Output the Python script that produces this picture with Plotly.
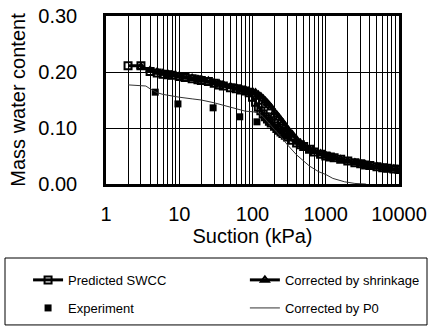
import plotly.graph_objects as go

# ---- data ----
pred_x = [2, 3, 4, 5, 6, 7, 8, 10, 12, 15, 18, 20, 25, 30, 35, 40, 50, 60, 70, 80, 90, 100,
          110, 120, 130, 140, 150, 160, 170, 180, 200, 215, 230, 245, 260, 280, 300, 350, 400,
          450, 500, 600, 700, 850, 1000, 1150, 1300, 1600, 2000, 2500, 3000, 3500, 4000, 5000,
          6000, 7000, 8500, 10000]
pred_w = [0.211, 0.211, 0.201, 0.198, 0.196, 0.195, 0.194, 0.192, 0.190, 0.188, 0.186, 0.185,
          0.183, 0.180, 0.177, 0.175, 0.172, 0.170, 0.168, 0.166, 0.163, 0.155, 0.146, 0.137,
          0.131, 0.125, 0.120, 0.116, 0.112, 0.109, 0.103, 0.099, 0.096, 0.093, 0.090, 0.087,
          0.084, 0.078, 0.073, 0.070, 0.067, 0.062, 0.057, 0.053, 0.050, 0.048, 0.047, 0.044,
          0.041, 0.038, 0.036, 0.034, 0.033, 0.031, 0.029, 0.028, 0.027, 0.026]

shr_x = [3, 4, 5, 6, 7, 8, 10, 12, 15, 18, 20, 25, 30, 35, 40, 50, 60, 70, 80, 90, 100,
         110, 120, 130, 140, 150, 160, 170, 180, 200, 215, 230, 245, 260, 280, 300, 350, 400,
         450, 500, 600, 700, 850, 1000, 1150, 1300, 1600, 2000, 2500, 3000, 3500, 4000, 5000,
         6000, 7000, 8500, 10000]
shr_w = [0.209, 0.203, 0.200, 0.198, 0.196, 0.195, 0.193, 0.191, 0.189, 0.187, 0.186, 0.184,
         0.181, 0.179, 0.177, 0.174, 0.172, 0.170, 0.168, 0.166, 0.165, 0.163, 0.159, 0.156,
         0.152, 0.148, 0.144, 0.140, 0.136, 0.128, 0.123, 0.118, 0.113, 0.109, 0.103, 0.098,
         0.088, 0.079, 0.073, 0.068, 0.062, 0.058, 0.054, 0.051, 0.049, 0.047, 0.044, 0.041,
         0.038, 0.036, 0.034, 0.033, 0.031, 0.029, 0.028, 0.027, 0.026]

exp_x = [4.7, 9.6, 29, 67, 115]
exp_w = [0.164, 0.143, 0.136, 0.120, 0.111]

p0_x = [2, 3, 3.5, 4, 5, 6, 8, 10, 15, 20, 30, 40, 50, 60, 80, 100, 120, 140, 160, 180, 200,
        250, 300, 400, 450, 600, 800, 1000, 1250, 1800, 2500, 3500, 4500, 7000]
p0_w = [0.177, 0.176, 0.175, 0.170, 0.163, 0.160, 0.157, 0.155, 0.152, 0.150, 0.145, 0.141,
        0.137, 0.134, 0.130, 0.129, 0.127, 0.120, 0.112, 0.104, 0.097, 0.083, 0.070, 0.052,
        0.046, 0.032, 0.022, 0.017, 0.010, 0.004, 0.001, 0.0, -0.007, -0.007]

x_ticks = [1, 10, 100, 1000, 10000]
x_tick_labels = ["1", "10", "100", "1000", "10000"]
y_ticks = [0.0, 0.1, 0.2, 0.3]
y_tick_labels = ["0.00", "0.10", "0.20", "0.30"]

FONT = "Liberation Sans, Arial, sans-serif"

fig = go.Figure()
fig.add_trace(go.Scatter(x=pred_x, y=pred_w, name="Predicted SWCC", mode="lines+markers",
                         legend="legend",
                         line=dict(color="black", width=3),
                         marker=dict(symbol="square-open", size=7, color="black",
                                     line=dict(width=2, color="black"))))
fig.add_trace(go.Scatter(x=shr_x, y=shr_w, name="Corrected by shrinkage", mode="lines+markers",
                         legend="legend2",
                         line=dict(color="black", width=3),
                         marker=dict(symbol="triangle-up-open", size=7, color="black",
                                     line=dict(width=2, color="black"))))
fig.add_trace(go.Scatter(x=exp_x, y=exp_w, name="Experiment", mode="markers",
                         legend="legend3",
                         marker=dict(symbol="square", size=7, color="black")))
fig.add_trace(go.Scatter(x=p0_x, y=p0_w, name="Corrected by P0", mode="lines",
                         legend="legend4",
                         line=dict(color="#333333", width=1)))

leg_common = dict(orientation="h", xanchor="left", yanchor="middle",
                  borderwidth=0, bgcolor="rgba(0,0,0,0)",
                  font=dict(family=FONT, size=13, color="black"))
col1_x, col2_x = -0.266, 0.474
row1_y, row2_y = -0.571, -0.738

fig.update_layout(
    width=432, height=329,
    margin=dict(l=106, r=33, t=16, b=145, autoexpand=False),
    paper_bgcolor="white", plot_bgcolor="white",
    font=dict(family=FONT, color="black", size=20),
    showlegend=True,
    legend=dict(x=col1_x, y=row1_y, **leg_common),
    legend2=dict(x=col2_x, y=row1_y, **leg_common),
    legend3=dict(x=col1_x, y=row2_y, **leg_common),
    legend4=dict(x=col2_x, y=row2_y, **leg_common),
    shapes=[dict(type="rect", xref="paper", yref="paper",
                 x0=-0.3447, x1=1.0956, y0=-0.839, y1=-0.4405,
                 line=dict(color="black", width=1), fillcolor="rgba(0,0,0,0)")],
)
fig.update_xaxes(type="log", range=[0, 4], tickvals=x_ticks, ticktext=x_tick_labels,
                 showgrid=True, gridcolor="black", gridwidth=1,
                 minor=dict(dtick="D1", showgrid=True, gridcolor="black", gridwidth=1),
                 showline=True, linecolor="black", linewidth=2.5, mirror=True,
                 ticks="", ticklabelstandoff=10, tickfont=dict(size=20),
                 title=dict(text="Suction (kPa)", font=dict(size=20), standoff=0),
                 zeroline=False)
fig.update_yaxes(range=[0, 0.30], tickvals=y_ticks, ticktext=y_tick_labels,
                 showgrid=True, gridcolor="black", gridwidth=1,
                 showline=True, linecolor="black", linewidth=2.5, mirror=True,
                 ticks="", ticklabelstandoff=22, tickfont=dict(size=20),
                 title=dict(text="Mass water content", font=dict(size=20), standoff=8),
                 zeroline=False)

fig.write_html("out.html")
